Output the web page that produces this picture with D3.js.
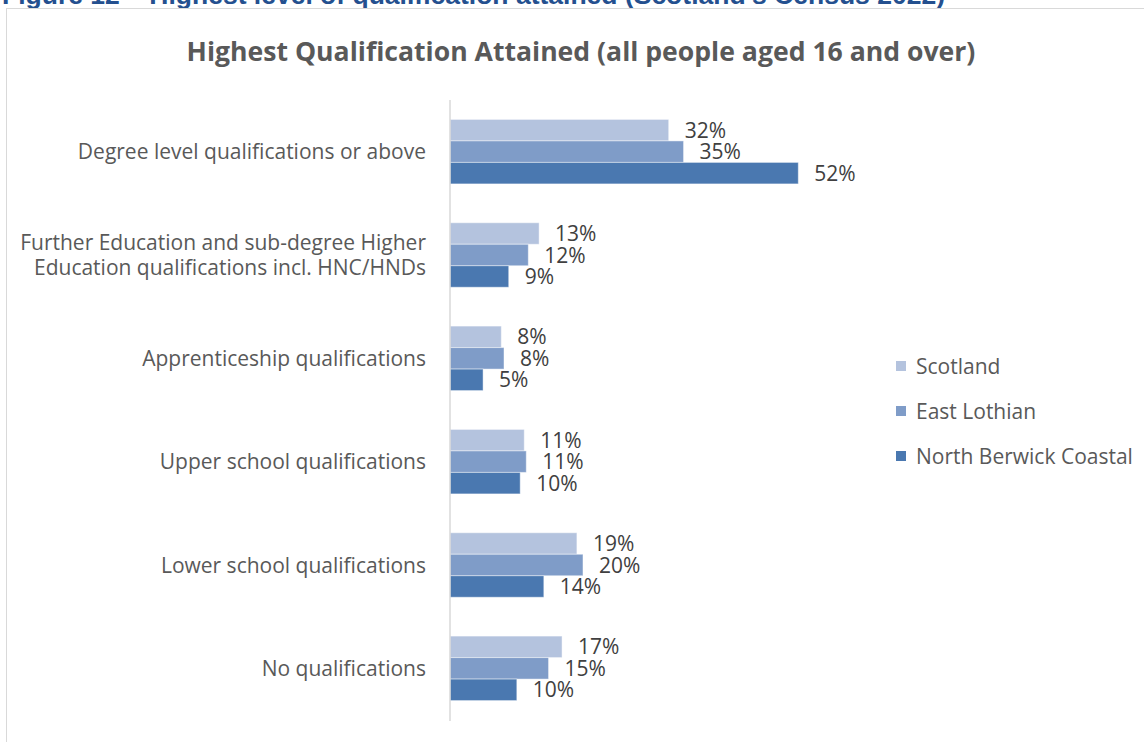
<!DOCTYPE html>
<meta charset="utf-8">
<style>
  body { margin: 0; background: #fff; }
</style>
<svg width="1144" height="742"></svg>
<script src="https://d3js.org/d3.v7.min.js"></script>
<script>
// categories, top to bottom
const categories = [
  "Degree level qualifications or above",
  "Further Education and sub-degree Higher Education qualifications incl. HNC/HNDs",
  "Apprenticeship qualifications",
  "Upper school qualifications",
  "Lower school qualifications",
  "No qualifications"
];
// label line breaks as drawn in the picture
const categoryLines = [
  ["Degree level qualifications or above"],
  ["Further Education and sub-degree Higher", "Education qualifications incl. HNC/HNDs"],
  ["Apprenticeship qualifications"],
  ["Upper school qualifications"],
  ["Lower school qualifications"],
  ["No qualifications"]
];

const seriesNames = ["Scotland", "East Lothian", "North Berwick Coastal"];
const seriesColors = ["#b4c3de", "#7f9cc8", "#4a78b0"];

// percent of people aged 16+
const scotland = [32.4, 13.2, 7.6, 11.0, 18.8, 16.6];
const eastLothian = [34.6, 11.6, 8.0, 11.3, 19.7, 14.6];
const northBerwick = [51.6, 8.7, 4.9, 10.4, 13.9, 9.9];
const seriesValues = [scotland, eastLothian, northBerwick];

const font = "'Open Sans', sans-serif";
const svg = d3.select("svg");

// cut-off figure heading above the chart box
svg.append("text")
    .attr("x", 2)
    .attr("y", 4)
    .attr("font-family", "Liberation Sans, Arial, sans-serif")
    .attr("font-weight", "bold")
    .attr("font-size", 26.5)
    .attr("fill", "#24508f")
    .text("Figure 12 \u2013 Highest level of qualification attained (Scotland\u2019s Census 2022)");

// chart frame
svg.append("rect")
    .attr("x", 6.5)
    .attr("y", 8.5)
    .attr("width", 1200)
    .attr("height", 800)
    .attr("fill", "#fff")
    .attr("stroke", "#d9d9d9");

svg.append("text")
    .attr("x", 581)
    .attr("y", 61)
    .attr("text-anchor", "middle")
    .attr("font-family", font)
    .attr("font-weight", "bold")
    .attr("font-size", 26.6)
    .attr("fill", "#595959")
    .text("Highest Qualification Attained (all people aged 16 and over)");

const x = d3.scaleLinear().domain([0, 60]).range([450, 855]);
const y = d3.scaleBand().domain(categories).range([100, 720])
    .paddingInner(0.376).paddingOuter(0.188);
const ySeries = d3.scaleBand().domain(seriesNames).range([0, y.bandwidth()]);

const rows = categories.flatMap((c, i) =>
  seriesNames.map((s, j) => ({cat: c, series: s, color: seriesColors[j], value: seriesValues[j][i]})));

svg.append("g")
  .selectAll("rect")
  .data(rows)
  .join("rect")
    .attr("x", x(0))
    .attr("y", d => y(d.cat) + ySeries(d.series))
    .attr("width", d => x(d.value) - x(0))
    .attr("height", ySeries.bandwidth())
    .attr("fill", d => d.color)
    .attr("stroke", "#ffffff")
    .attr("stroke-opacity", 0.45)
    .attr("stroke-width", 1);

svg.append("g")
    .attr("font-family", font)
    .attr("font-size", 21)
    .attr("fill", "#404040")
  .selectAll("text")
  .data(rows)
  .join("text")
    .attr("x", d => x(d.value) + 16)
    .attr("y", d => y(d.cat) + ySeries(d.series) + ySeries.bandwidth() / 2)
    .attr("dy", "0.36em")
    .text(d => d3.format(".0f")(d.value) + "%");

// vertical axis line
svg.append("line")
    .attr("x1", x(0)).attr("x2", x(0))
    .attr("y1", 100).attr("y2", 721)
    .attr("stroke", "#d9d9d9")
    .attr("stroke-width", 1.5);

// category labels
const catLabel = svg.append("g")
    .attr("font-family", font)
    .attr("font-size", 21)
    .attr("fill", "#595959")
    .attr("text-anchor", "end")
  .selectAll("text")
  .data(categories)
  .join("text")
    .attr("x", 426)
    .attr("y", d => y(d) + y.bandwidth() / 2);

catLabel.selectAll("tspan")
  .data((d, i) => categoryLines[i].map((t, k, a) => ({t, k, n: a.length})))
  .join("tspan")
    .attr("x", 426)
    .attr("dy", d => d.k === 0 ? (0.36 - (d.n - 1) * 0.6) + "em" : "1.2em")
    .text(d => d.t);

// legend
const legend = svg.append("g")
    .attr("font-family", font)
    .attr("font-size", 21)
    .attr("fill", "#595959")
  .selectAll("g")
  .data(seriesNames)
  .join("g")
    .attr("transform", (d, i) => `translate(896,${366 + i * 45})`);

legend.append("rect")
    .attr("y", -5)
    .attr("width", 10)
    .attr("height", 10)
    .attr("fill", (d, i) => seriesColors[i]);

legend.append("text")
    .attr("x", 20)
    .attr("dy", "0.36em")
    .text(d => d);
</script>
